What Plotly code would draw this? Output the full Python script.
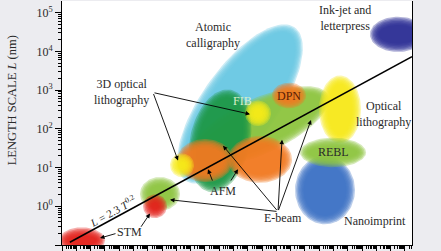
import numpy as np
import plotly.graph_objects as go

# ---------------- data (log10 units) ----------------
BLOB_NAMES = ["Atomic calligraphy", "E-beam band", "FIB", "FIB spot", "DPN",
              "AFM 1", "AFM 2", "E-beam small", "3D optical", "STM spot", "STM",
              "Optical lithography", "Nanoimprint", "REBL", "Ink-jet"]
BLOB_LOGT = [5.46, 6.86, 4.06, 6.72, 8.89, 3.01, 6.86, -0.14, 1.40, -0.49, -5.60,
             12.46, 11.41, 11.97, 16.52]
BLOB_LOGL = [2.64, 2.07, 1.69, 2.40, 2.86, 1.18, 1.21, 0.32, 1.06, 0.00, -0.88,
             2.50, 0.42, 1.39, 4.44]
BLOB_SPREAD_T = [2.45, 5.04, 1.89, 0.70, 0.98, 1.75, 2.03, 1.19, 0.63, 0.63, 1.40,
                 1.26, 1.89, 2.10, 1.75]
BLOB_SPREAD_L = [2.34, 0.635, 1.27, 0.254, 0.254, 0.48, 0.53, 0.36, 0.23, 0.23, 0.26,
                 0.80, 0.81, 0.305, 0.38]
BLOB_TILT = [-35, 25, -12, 0, 0, 0, 0, 0, 0, 0, 0, 0, 0, 0, 0]

LINE_T = [10 ** -6.45, 10 ** 17.5]
LINE_L = [0.118, 7270]

Y_TICKS = [0.1, 1, 10, 100, 1000, 10000, 100000]
Y_TICK_TEXT = ["10<sup>−1</sup>", "10<sup>0</sup>", "10<sup>1</sup>", "10<sup>2</sup>",
               "10<sup>3</sup>", "10<sup>4</sup>", "10<sup>5</sup>"]

# ---------------- style ----------------
COLORS = {
    "Atomic calligraphy": (104, 200, 228),
    "E-beam band": (141, 198, 63),
    "FIB": (30, 152, 72),
    "FIB spot": (248, 236, 24),
    "DPN": (242, 122, 32),
    "AFM 1": (242, 122, 32),
    "AFM 2": (242, 122, 32),
    "E-beam small": (141, 198, 63),
    "3D optical": (248, 236, 24),
    "STM spot": (228, 32, 28),
    "STM": (228, 32, 28),
    "Optical lithography": (248, 234, 28),
    "Nanoimprint": (62, 114, 198),
    "REBL": (141, 198, 63),
    "Ink-jet": (44, 46, 150),
}
W, H = 441, 251
ML, MR, MT, MB = 62, 29, 1, 2
XR = [-7, 17.5]
YR = [-1, 5.3]
PXX = (W - ML - MR) / (XR[1] - XR[0])
PXY = (H - MT - MB) / (YR[1] - YR[0])
FONT = "Liberation Serif"
TXT = "#2a2a2a"

fig = go.Figure()

theta = np.linspace(0, 2 * np.pi, 100)
for name, cx, cy, st, sl, tilt in zip(BLOB_NAMES, BLOB_LOGT, BLOB_LOGL,
                                      BLOB_SPREAD_T, BLOB_SPREAD_L, BLOB_TILT):
    r, g, b = COLORS[name]
    ang = np.radians(tilt)
    for d in np.linspace(3.0, -5.5, 7):
        a_px = max(st * PXX + d, 1.0)
        b_px = max(sl * PXY + d, 1.0)
        u = a_px * np.cos(theta)
        v = b_px * np.sin(theta)
        ur = u * np.cos(ang) - v * np.sin(ang)
        vr = u * np.sin(ang) + v * np.cos(ang)
        fig.add_trace(go.Scatter(
            x=10 ** (cx + ur / PXX), y=10 ** (cy + vr / PXY),
            mode="lines", fill="toself", line=dict(width=0),
            fillcolor=f"rgba({r},{g},{b},0.36)",
            hoverinfo="skip", showlegend=False))

fig.add_trace(go.Scatter(x=LINE_T, y=LINE_L, mode="lines",
                         line=dict(color="black", width=1.6),
                         hoverinfo="skip", showlegend=False))

annotations = []


def label(text, x, y, size=12, color=TXT, angle=0):
    annotations.append(dict(text=text, x=x, y=y, xref="x", yref="y",
                            showarrow=False, textangle=angle,
                            font=dict(family=FONT, size=size, color=color),
                            xanchor="center", yanchor="middle"))


def arrow(tx, ty, hx, hy):
    annotations.append(dict(text="", x=hx, y=hy, ax=tx, ay=ty,
                            xref="x", yref="y", axref="x", ayref="y",
                            showarrow=True, arrowhead=2, arrowsize=1,
                            arrowwidth=0.9, arrowcolor="black", standoff=0))


label("Atomic<br>calligraphy", 3.57, 4.41)
label("Ink-jet and<br>letterpress", 12.81, 4.87)
label("3D optical<br>lithography", -2.87, 2.94)
label("FIB", 5.6, 2.71, color="#d8f0c8")
label("DPN", 8.89, 2.86, color="#5a1e06")
label("Optical<br>lithography", 15.47, 2.38)
label("REBL", 11.97, 1.39)
label("Nanoimprint", 14.91, -0.38)
label("AFM", 4.27, 0.40)
label("E-beam", 8.47, -0.31)
label("STM", -2.31, -0.67)
label("<i>L</i> = 2.3 <i>T</i><sup>0.2</sup>", -3.45, -0.12, size=11, angle=-29)

arrow(-0.63, 2.937, 6.16, 2.378)
arrow(-0.63, 2.937, 1.12, 1.184)
arrow(3.57, 0.626, 3.22, 0.956)
arrow(4.76, 0.626, 5.32, 0.956)
arrow(8.12, -0.136, 0.56, 0.168)
arrow(8.12, -0.136, 4.27, 1.565)
arrow(8.12, -0.136, 8.40, 1.718)
arrow(8.12, -0.136, 10.43, 2.226)
arrow(-3.15, -0.695, -4.34, -0.822)
arrow(-1.54, -0.568, -0.84, -0.187)

annotations.append(dict(text="LENGTH SCALE <i>L</i> (nm)", xref="paper", yref="paper",
                        x=(12 - ML) / (W - ML - MR), y=(H - MB - 102) / (H - MT - MB),
                        showarrow=False, textangle=-90, xanchor="center", yanchor="middle",
                        font=dict(family=FONT, size=12.5, color=TXT)))

fig.update_layout(
    width=W, height=H,
    margin=dict(l=ML, r=MR, t=MT, b=MB),
    paper_bgcolor="#ececf0", plot_bgcolor="white",
    annotations=annotations,
    xaxis=dict(type="log", range=XR, showgrid=False, zeroline=False,
               showline=True, linecolor="black", linewidth=1,
               ticks="outside", ticklen=5, tickcolor="black", dtick=1,
               showticklabels=False,
               minor=dict(ticks="outside", ticklen=3, tickcolor="black", dtick="D1")),
    yaxis=dict(type="log", range=YR, showgrid=False, zeroline=False,
               showline=True, linecolor="black", linewidth=1, mirror=True,
               ticks="outside", ticklen=6, tickcolor="black",
               tickvals=Y_TICKS, ticktext=Y_TICK_TEXT,
               tickfont=dict(family=FONT, size=12, color=TXT),
               minor=dict(ticks="outside", ticklen=3, tickcolor="black", dtick="D1")),
)

fig.write_html("out.html")
